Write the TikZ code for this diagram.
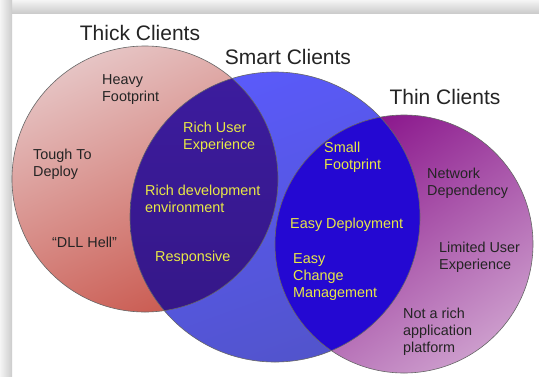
\documentclass[tikz,border=0pt]{standalone}
\usepackage{fontspec}
\setmainfont{Liberation Sans}
\definecolor{thickpink}{RGB}{230,196,196}
\definecolor{thickred}{RGB}{202,90,80}
\definecolor{smartblue}{RGB}{90,90,250}
\definecolor{smartdeep}{RGB}{82,84,204}
\definecolor{thinplum}{RGB}{136,18,138}
\definecolor{thinlilac}{RGB}{204,156,204}
\definecolor{richindigo}{RGB}{60,28,158}
\definecolor{richdark}{RGB}{52,22,132}
\definecolor{easyblue}{RGB}{36,8,210}
\definecolor{notegray}{RGB}{36,36,36}
\definecolor{noteyellow}{RGB}{232,232,70}
\tikzset{
  heading/.style={
    font=\fontsize{21}{24}\selectfont,
    text=notegray,
    inner sep=0pt,
  },
  % anchored on the baseline of the last line
  note/.style={
    font=\fontsize{14.4}{17}\selectfont,
    text=notegray,
    align=left,
    anchor=base west,
    inner sep=0pt,
  },
  hotnote/.style={
    note,
    text=noteyellow,
  },
  rim/.style={
    draw=black!60,
    line width=0.6pt,
  }
}
\def\thickr{133pt}
\def\smartr{145pt}
\def\thinr{129pt}

\begin{document}
\begin{tikzpicture}[x=1pt,y=-1pt]
\useasboundingbox (0,0) rectangle (539,376);

% page with its drop shadow
\fill[white] (0,0) rectangle (539,376);
\shade[top color=gray!8, bottom color=gray!40] (0,0) rectangle (539,13);
\shade[left color=gray!8, right color=gray!40] (0,0) rectangle (12,376);

\coordinate (thick) at (145,179);
\coordinate (smart) at (275,217);
\coordinate (thin) at (404,244);

% the three sets
\shade[top color=thickpink, bottom color=thickred, shading angle=25]
  (thick) circle[radius=\thickr];
\shade[top color=smartblue, bottom color=smartdeep, shading angle=20]
  (smart) circle[radius=\smartr];
\shade[top color=thinplum, bottom color=thinlilac, shading angle=35]
  (thin) circle[radius=\thinr];

% overlaps
\begin{scope}
  \clip (thick) circle[radius=\thickr];
  \shade[top color=richindigo, bottom color=richdark]
    (smart) circle[radius=\smartr];
\end{scope}
\begin{scope}
  \clip (thin) circle[radius=\thinr];
  \fill[easyblue] (smart) circle[radius=\smartr];
\end{scope}

\draw[rim] (thick) circle[radius=\thickr];
\draw[rim] (smart) circle[radius=\smartr];
\draw[rim] (thin) circle[radius=\thinr];

% titles
\node[heading] (thicktitle) at (140,33) {Thick Clients};
\node[heading] (smarttitle) at (288,57) {Smart Clients};
\node[heading] (thintitle) at (445,97) {Thin Clients};

% thick clients only
\node[note] (heavy) at (102,101) {Heavy\\Footprint};
\node[note] (tough) at (33,176) {Tough To\\Deploy};
\node[note] (dllhell) at (52,247) {“DLL Hell”};

% thick and smart
\node[hotnote] (richux) at (183,149) {Rich User\\Experience};
\node[hotnote] (richdev) at (145,212) {Rich development\\environment};
\node[hotnote] (responsive) at (155,261) {Responsive};

% smart and thin
\node[hotnote] (small) at (324,169) {Small\\Footprint};
\node[hotnote] (easydeploy) at (290,228) {Easy Deployment};
\node[hotnote] (easychange) at (293,297) {Easy\\Change\\Management};

% thin clients only
\node[note] (network) at (427,195) {Network\\Dependency};
\node[note] (limited) at (439,269) {Limited User\\Experience};
\node[note] (notrich) at (403,352) {Not a rich\\application\\platform};

\end{tikzpicture}
\end{document}
